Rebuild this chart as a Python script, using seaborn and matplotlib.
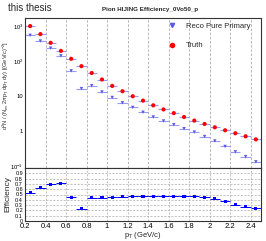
import numpy as np
import pandas as pd
import matplotlib
matplotlib.use("Agg")
import matplotlib.pyplot as plt
import seaborn as sns
from matplotlib.lines import Line2D

pt_centers = [0.25, 0.35, 0.45, 0.55, 0.65, 0.75, 0.85, 0.95, 1.05, 1.15, 1.25, 1.35,
              1.45, 1.55, 1.65, 1.75, 1.85, 1.95, 2.05, 2.15, 2.25, 2.35, 2.45]
truth = [1000, 590, 333, 196, 117, 72, 46, 30, 19.7, 13.9, 10.0, 7.5,
         5.5, 4.2, 3.3, 2.56, 2.02, 1.62, 1.30, 1.07, 0.88, 0.72, 0.59]
reco = [545, 375, 235, 142, 53, 16.5, 20, 13.2, 9.2, 6.5, 4.8, 3.5,
        2.56, 1.97, 1.55, 1.19, 0.95, 0.71, 0.53, 0.37, 0.26, 0.19, 0.135]
efficiency = [0.53, 0.63, 0.69, 0.71, 0.45, 0.23, 0.44, 0.44, 0.45, 0.46, 0.47, 0.47,
              0.47, 0.47, 0.47, 0.47, 0.47, 0.45, 0.42, 0.37, 0.31, 0.27, 0.24]
bin_half_width = 0.05
x_ticks = [0.2, 0.4, 0.6, 0.8, 1.0, 1.2, 1.4, 1.6, 1.8, 2.0, 2.2, 2.4]
x_tick_labels = ["0.2", "0.4", "0.6", "0.8", "1", "1.2", "1.4", "1.6", "1.8", "2", "2.2", "2.4"]
y_log_ticks = [0.1, 1, 10, 100, 1000]
y_log_labels = ["$10^{-1}$", "1", "10", "$10^{2}$", "$10^{3}$"]
eff_ticks = [0, 0.1, 0.2, 0.3, 0.4, 0.5, 0.6, 0.7, 0.8, 0.9]
eff_labels = ["0", "0.1", "0.2", "0.3", "0.4", "0.5", "0.6", "0.7", "0.8", "0.9"]

df = pd.DataFrame({"pt": pt_centers, "truth": truth, "reco": reco, "eff": efficiency})

sns.set_style("white")
plt.rcParams["font.family"] = ["Liberation Sans", "DejaVu Sans"]
plt.rcParams["mathtext.fontset"] = "custom"
plt.rcParams["mathtext.rm"] = "Liberation Sans"
plt.rcParams["mathtext.it"] = "Liberation Sans:italic"

W, H = 266, 241
fig = plt.figure(figsize=(W / 100, H / 100), dpi=100)
L, R = 25 / W, 261 / W
ax1 = fig.add_axes([L, 1 - 168 / H, R - L, (168 - 18) / H])
ax2 = fig.add_axes([L, 1 - 221 / H, R - L, (221 - 168) / H])

reco_col = "#5a5ae6"
reco_err = "#9a9af0"
truth_col = "#ff0000"
eff_col = "#0000ff"

# top panel
ax1.set_yscale("log")
ax1.hlines(df["reco"], df["pt"] - bin_half_width, df["pt"] + bin_half_width, color=reco_err, lw=0.8, zorder=2)
ax1.hlines(df["truth"], df["pt"] - bin_half_width, df["pt"] + bin_half_width, color=reco_err, lw=0.8, zorder=2)
sns.scatterplot(data=df, x="pt", y="reco", ax=ax1, marker="v", s=6, color=reco_col,
                edgecolor="none", zorder=3, legend=False)
sns.scatterplot(data=df, x="pt", y="truth", ax=ax1, marker="o", s=9, color=truth_col,
                edgecolor="none", zorder=4, legend=False)
ax1.set_xlim(0.2, 2.5)
ax1.set_ylim(0.09, 1700)
ax1.set_xticks(x_ticks)
ax1.set_xticklabels([])
ax1.set_yticks(y_log_ticks)
ax1.set_yticklabels(y_log_labels)
ax1.set_xlabel("")
ax1.set_ylabel(r"d$^{2}$N / (N$_{\rm ev}$ 2$\pi$p$_{\rm T}$ dp$_{\rm T}$ dy) [(GeV/c)$^{-2}$]",
               fontsize=4.1)
ax1.yaxis.set_label_coords(-14 / 236, 0.55)
for x in x_ticks[1:]:
    ax1.axvline(x, color="#aaaaaa", lw=0.6, ls=(0, (3, 2)), zorder=1)
ax1.tick_params(axis="both", which="both", direction="in", labelsize=4.2, colors="#888888",
                labelcolor="black", pad=1.2)
ax1.tick_params(axis="y", which="major", length=4, width=0.8)
ax1.tick_params(axis="y", which="minor", length=2, width=0.6)
ax1.tick_params(axis="x", which="major", length=3, width=0.6)
for s in ax1.spines.values():
    s.set_linewidth(0.8)
    s.set_color("#333333")

handles = [Line2D([], [], marker="v", color=reco_col, ls="none", markersize=3),
           Line2D([], [], marker="o", color=truth_col, ls="none", markersize=3)]
ax1.legend(handles, ["Reco Pure Primary", "Truth"], loc="upper left", bbox_to_anchor=(0.59, 0.99),
           frameon=False, fontsize=5.5, labelspacing=1.6, handletextpad=1.2, handlelength=1.2,
           borderaxespad=0)

# bottom panel
ax2.hlines(df["eff"], df["pt"] - bin_half_width, df["pt"] + bin_half_width, color=eff_col, lw=0.7, zorder=2)
sns.scatterplot(data=df, x="pt", y="eff", ax=ax2, marker="s", s=5, color=eff_col,
                edgecolor="none", zorder=3, legend=False)
ax2.set_xlim(0.2, 2.5)
ax2.set_ylim(0, 1.0)
ax2.set_xticks(x_ticks)
ax2.set_xticklabels(x_tick_labels)
ax2.set_yticks(eff_ticks)
ax2.set_yticklabels(eff_labels)
for y in eff_ticks[1:]:
    ax2.axhline(y, color="#aaaaaa", lw=0.5, ls=(0, (3, 2)), zorder=1)
for x in x_ticks[1:]:
    ax2.axvline(x, color="#aaaaaa", lw=0.5, ls=(0, (3, 2)), zorder=1)
ax2.set_ylabel("Efficiency", fontsize=6)
ax2.yaxis.set_label_coords(-14 / 236, 0.5)
ax2.set_xlabel(r"p$_{\rm T}$ (GeV/c)", fontsize=5.5, labelpad=0)
ax2.tick_params(axis="both", which="both", direction="in", colors="#888888", labelcolor="black", pad=1.5)
ax2.tick_params(axis="x", labelsize=5.5, length=3, width=0.6)
ax2.tick_params(axis="y", labelsize=4, length=3, width=0.6, pad=1.5)
for s in ax2.spines.values():
    s.set_linewidth(0.8)
    s.set_color("#333333")

fig.text(8 / W, 1 - 8 / H, "this thesis", fontsize=7, va="center", ha="left")
fig.text(150 / W, 1 - 9 / H, "Pion HIJING Efficiency_0Vo50_p", fontsize=4.5, fontweight="bold",
         va="center", ha="center")

fig.savefig("out.png", dpi=100)
